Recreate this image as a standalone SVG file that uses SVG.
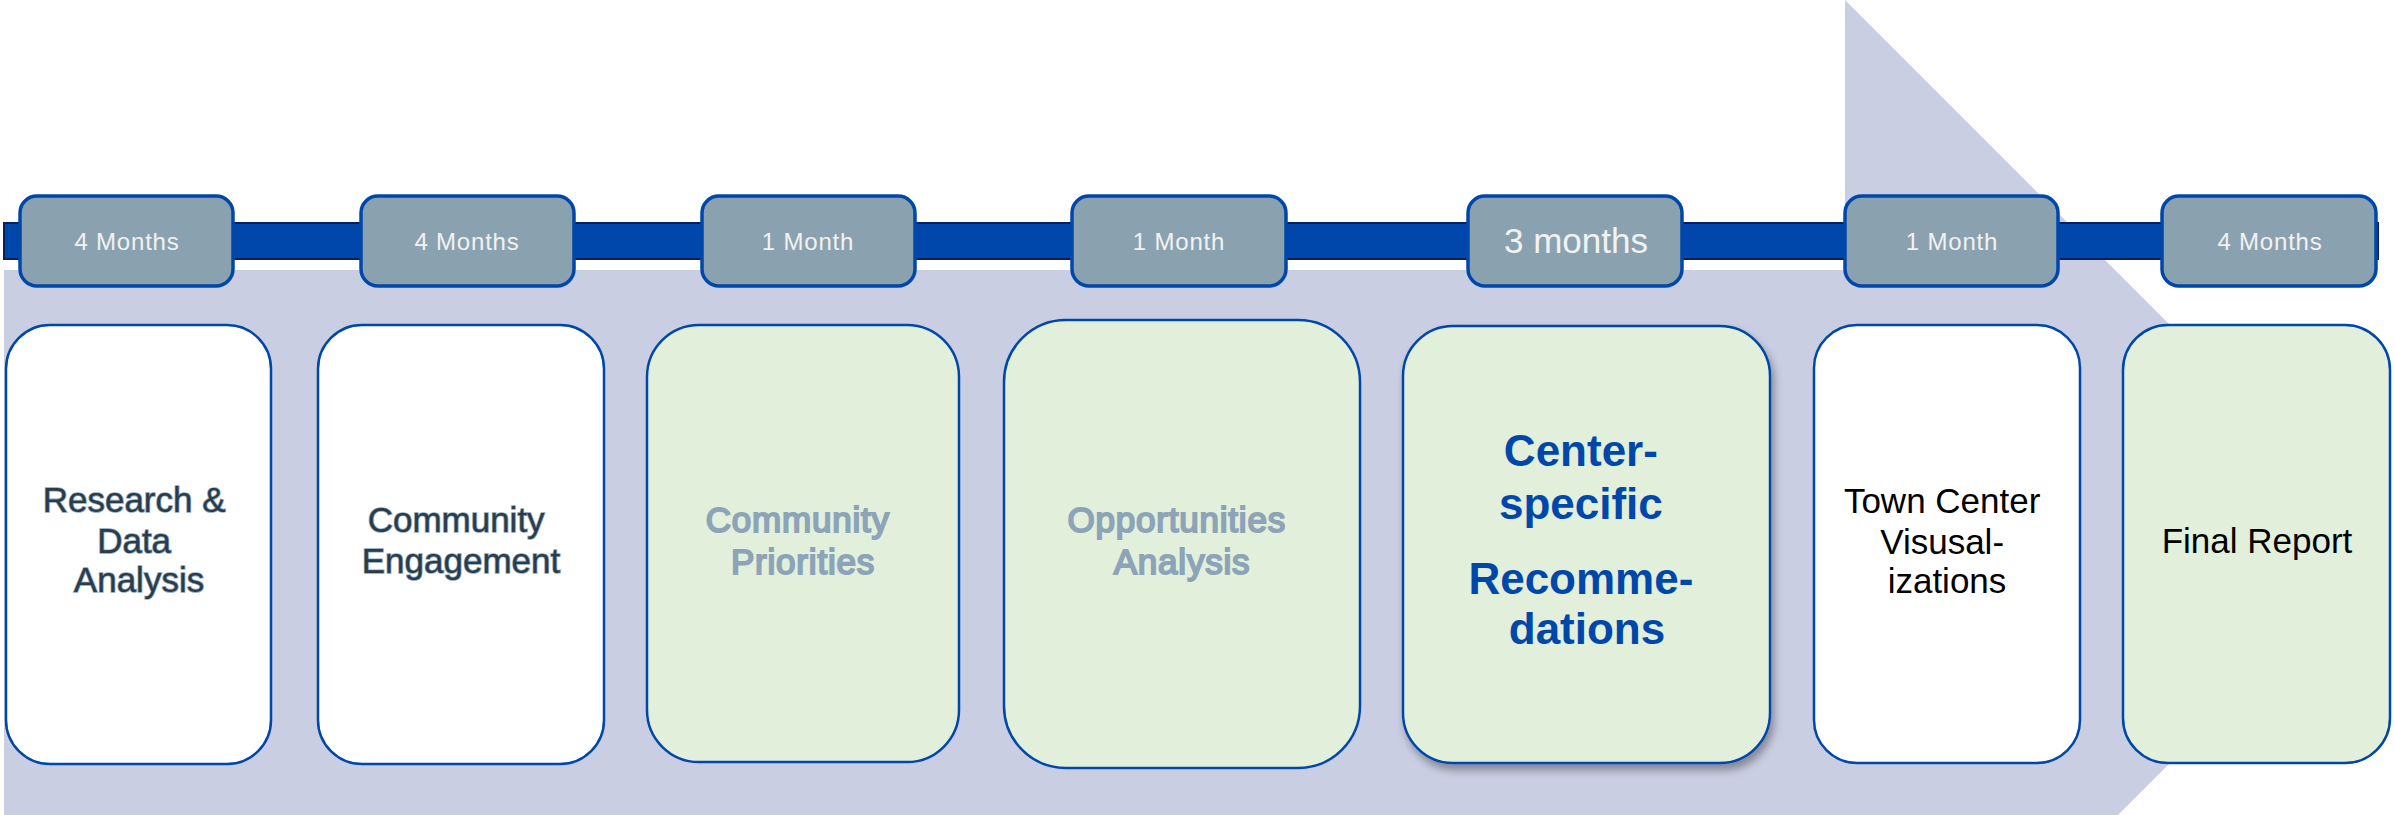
<svg xmlns="http://www.w3.org/2000/svg" width="2395" height="815" viewBox="0 0 2395 815">
  <defs>
    <style>
      .pill { fill: #8AA2B0; stroke: #0047AB; stroke-width: 3.5; }
      .pill-text { font-family: "Liberation Sans", Arial, sans-serif; font-size: 24px; letter-spacing: 0.8px; fill: #F2F2F2; text-anchor: middle; }
      .pill-text-lg { font-family: "Liberation Sans", Arial, sans-serif; font-size: 35px; fill: #F2F2F2; text-anchor: middle; }
      .box { stroke: #0047AB; stroke-width: 2.5; }
      .box-white { fill: #FFFFFF; }
      .box-green { fill: #E2EFDA; }
      .t { font-family: "Liberation Sans", Arial, sans-serif; font-size: 35px; text-anchor: middle; }
      .t-slate { fill: #2A3C4C; stroke: #8EA8BA; stroke-width: 1.6; paint-order: stroke; }
      .t-muted { fill: #8CA3B8; stroke: #8CA3B8; stroke-width: 1.9; letter-spacing: 0.8px; }
      .t-black { fill: #000000; }
      .t-bold { font-size: 44px; font-weight: bold; fill: #0047AB; }
    </style>
    <filter id="lift" x="-10%" y="-10%" width="125%" height="125%">
      <feDropShadow dx="3" dy="6" stdDeviation="4" flood-color="#000000" flood-opacity="0.35"/>
    </filter>
  </defs>

  <!-- background process arrow -->
  <path id="process-arrow" d="M4,270 H1845 V0 L2389,544 L1845,1088 V818 H4 Z" fill="#C9CEE3"/>

  <!-- timeline bar -->
  <g id="connectors">
    <rect x="4" y="223" width="2374" height="36" fill="#0047AB" stroke="#0B1F5C" stroke-width="2"/>
  </g>

  <!-- durations -->
  <g id="dur-1">
    <rect class="pill" x="20" y="196" width="213" height="90" rx="17"/>
    <text class="pill-text" x="127" y="250">4 Months</text>
  </g>
  <g id="dur-2">
    <rect class="pill" x="361" y="196" width="213" height="90" rx="17"/>
    <text class="pill-text" x="467" y="250">4 Months</text>
  </g>
  <g id="dur-3">
    <rect class="pill" x="702" y="196" width="213" height="90" rx="17"/>
    <text class="pill-text" x="808" y="250">1 Month</text>
  </g>
  <g id="dur-4">
    <rect class="pill" x="1072" y="196" width="214" height="90" rx="17"/>
    <text class="pill-text" x="1179" y="250">1 Month</text>
  </g>
  <g id="dur-5">
    <rect class="pill" x="1468" y="196" width="214" height="90" rx="17"/>
    <text class="pill-text-lg" x="1576" y="253">3 months</text>
  </g>
  <g id="dur-6">
    <rect class="pill" x="1845" y="196" width="213" height="90" rx="17"/>
    <text class="pill-text" x="1952" y="250">1 Month</text>
  </g>
  <g id="dur-7">
    <rect class="pill" x="2162" y="196" width="214" height="90" rx="17"/>
    <text class="pill-text" x="2270" y="250">4 Months</text>
  </g>

  <!-- phases -->
  <g id="phase-research">
    <rect class="box box-white" x="6" y="325" width="265" height="439" rx="44"/>
    <text class="t t-slate" x="139">
      <tspan x="139" y="512">Research &amp;</tspan>
      <tspan x="139" y="553">Data</tspan>
      <tspan x="139" y="592">Analysis</tspan>
    </text>
  </g>
  <g id="phase-engagement">
    <rect class="box box-white" x="318" y="325" width="286" height="439" rx="44"/>
    <text class="t t-slate" x="461">
      <tspan x="461" y="532">Community</tspan>
      <tspan x="461" y="573">Engagement</tspan>
    </text>
  </g>
  <g id="phase-priorities">
    <rect class="box box-green" x="647" y="325" width="312" height="437" rx="52"/>
    <text class="t t-muted" x="803">
      <tspan x="803" y="532">Community</tspan>
      <tspan x="803" y="574">Priorities</tspan>
    </text>
  </g>
  <g id="phase-opportunities">
    <rect class="box box-green" x="1004" y="320" width="356" height="448" rx="62"/>
    <text class="t t-muted" x="1182">
      <tspan x="1182" y="532">Opportunities</tspan>
      <tspan x="1182" y="574">Analysis</tspan>
    </text>
  </g>
  <g id="phase-recommendations">
    <rect class="box box-green" x="1403" y="326" width="367" height="437" rx="50" filter="url(#lift)"/>
    <text class="t t-bold" x="1587">
      <tspan x="1587" y="466">Center-</tspan>
      <tspan x="1587" y="519">specific</tspan>
      <tspan x="1587" y="594">Recomme-</tspan>
      <tspan x="1587" y="644">dations</tspan>
    </text>
  </g>
  <g id="phase-visualizations">
    <rect class="box box-white" x="1814" y="325" width="266" height="438" rx="43"/>
    <text class="t t-black" x="1947">
      <tspan x="1947" y="513">Town Center</tspan>
      <tspan x="1947" y="554">Visusal-</tspan>
      <tspan x="1947" y="593">izations</tspan>
    </text>
  </g>
  <g id="phase-final-report">
    <rect class="box box-green" x="2123" y="325" width="267" height="438" rx="45"/>
    <text class="t t-black" x="2257" y="553">Final Report</text>
  </g>
</svg>
